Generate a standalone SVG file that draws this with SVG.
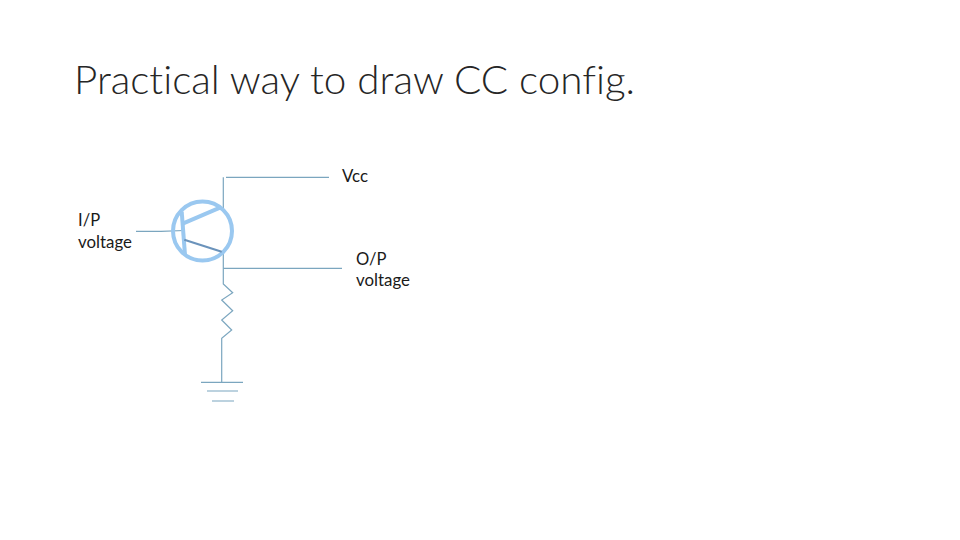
<svg xmlns="http://www.w3.org/2000/svg" width="960" height="540" viewBox="0 0 960 540">
<style>
text{font-family:Lato,"Open Sans","Liberation Sans",sans-serif;fill:#262626;font-variant-ligatures:none}
.t{font-size:39px;font-weight:300}
.l{font-size:16.6px;fill:#1a1a1a}
.w{fill:none;stroke:#7ba6bf;stroke-width:1.2}
.s{fill:none;stroke:#9ac8f0;stroke-width:4}
</style>
<rect width="960" height="540" fill="#fff"/>
<g id="title"><text class="t" x="74" y="94" textLength="561" lengthAdjust="spacingAndGlyphs">Practical way to draw CC config.</text></g>
<g id="connectors">
<path class="w" d="M136 231.3H161L184 230.5"/>
<path class="w" d="M223.3 208V177.3M226 177.3H329"/>
<path class="w" d="M223.3 252V284L232.7 292.7L221.7 300L232.7 310.7L221.7 320L231.7 330L221.7 338.3V382.3"/>
<path class="w" d="M223.3 268.3H342"/>
</g>
<g id="transistor">
<circle class="s" cx="202.5" cy="231" r="29.5"/>
<path class="s" d="M181.7 211.7L185 255" />
<path class="s" d="M183.3 223.3L220 207.7" />
<path d="M184.3 239.7L221.7 251.7" fill="none" stroke="#6b93bb" stroke-width="2.2"/>
</g>
<g id="ground">
<path class="w" d="M201 382.3H243M207 391H238M212 401H234"/>
</g>
<g id="vcc"><text class="l" x="342" y="182" textLength="26" lengthAdjust="spacingAndGlyphs">Vcc</text></g>
<g id="input"><text class="l" x="78" y="226">I/P</text><text class="l" x="78" y="248" textLength="54" lengthAdjust="spacingAndGlyphs">voltage</text></g>
<g id="output"><text class="l" x="356" y="265">O/P</text><text class="l" x="356" y="286" textLength="54" lengthAdjust="spacingAndGlyphs">voltage</text></g>
</svg>
